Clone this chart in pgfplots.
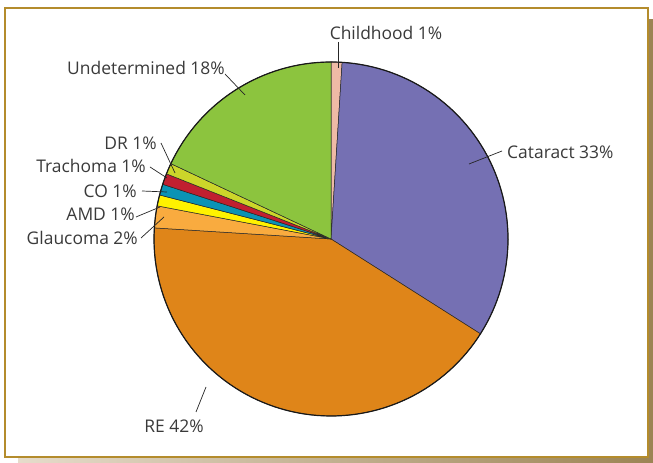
\documentclass[border=0pt]{standalone}
\usepackage{pgfplots}
\pgfplotsset{compat=1.18}
\usepackage{fontspec}
\setmainfont{Open Sans}
\definecolor{cChild}{HTML}{EEBAA6}
\definecolor{cCat}{HTML}{7570B3}
\definecolor{cRE}{HTML}{DF8519}
\definecolor{cGla}{HTML}{F9AB3F}
\definecolor{cAMD}{HTML}{FFF200}
\definecolor{cCO}{HTML}{0B93B5}
\definecolor{cTra}{HTML}{C11F30}
\definecolor{cDR}{HTML}{CCD62A}
\definecolor{cUnd}{HTML}{8CC43E}
\definecolor{frame}{HTML}{B48C2C}
\definecolor{shadL}{HTML}{E6DCCB}
\definecolor{shadR}{HTML}{9C8454}
\definecolor{txt}{HTML}{3A3A3A}
\begin{document}
\begin{tikzpicture}[x=1bp,y=1bp]
% canvas
\path (0,0) rectangle (653,463);
% shadow and frame
\shade[left color=shadL,right color=shadR] (18,0) rectangle (653,443);
\fill[white] (5,6) rectangle (648,455);
\draw[frame,line width=2bp] (5,6) rectangle (648,455);
\begin{axis}[
  x=177bp, y=177bp,
  xmin=-1, xmax=1, ymin=-1, ymax=1,
  hide axis, clip=false,
  at={(331bp,224bp)}, anchor=origin,
  every axis plot/.append style={data cs=polar, samples=60, draw=black!85, line width=0.5bp},
]
% wedges: start and end angle (degrees), from 90 clockwise; shares 1,33,42,2,1,1,1,1,18 %
\addplot[fill=cChild, domain=90:86.4]    ({\x},{1}) -- (axis cs:0,0) -- cycle;
\addplot[fill=cCat,   domain=86.4:-32.4] ({\x},{1}) -- (axis cs:0,0) -- cycle;
\addplot[fill=cRE,    domain=-32.4:-183.6] ({\x},{1}) -- (axis cs:0,0) -- cycle;
\addplot[fill=cGla,   domain=-183.6:-190.8] ({\x},{1}) -- (axis cs:0,0) -- cycle;
\addplot[fill=cAMD,   domain=-190.8:-194.4] ({\x},{1}) -- (axis cs:0,0) -- cycle;
\addplot[fill=cCO,    domain=-194.4:-198] ({\x},{1}) -- (axis cs:0,0) -- cycle;
\addplot[fill=cTra,   domain=-198:-201.6] ({\x},{1}) -- (axis cs:0,0) -- cycle;
\addplot[fill=cDR,    domain=-201.6:-205.2] ({\x},{1}) -- (axis cs:0,0) -- cycle;
\addplot[fill=cUnd,   domain=-205.2:-270] ({\x},{1}) -- (axis cs:0,0) -- cycle;
\addplot[draw=black!90, line width=1.2bp, domain=0:360, samples=180] ({\x},{1});
\end{axis}
% leader lines
\begin{scope}[draw=black!85, line width=0.7bp]
\draw (338,421) -- (338,395);
\draw (225,389) -- (245,368);
\draw (502,312) -- (469,299);
\draw (161,320) -- (175,290);
\draw (150,296) -- (167,285);
\draw (142,272) -- (167,271);
\draw (136,246) -- (160,256);
\draw (141,225) -- (164,246);
\draw (206,76) -- (196,51);
\end{scope}
% labels
\begin{scope}[every node/.style={text=txt, font=\fontsize{17.5}{20}\selectfont, inner sep=0pt}]
\node at (386,430) {Childhood 1\%};
\node at (146,395) {Undetermined 18\%};
\node[anchor=west] at (507,311) {Cataract 33\%};
\node[anchor=east] at (157,320) {DR 1\%};
\node[anchor=east] at (146,297) {Trachoma 1\%};
\node[anchor=east] at (137,272) {CO 1\%};
\node[anchor=east] at (135,249) {AMD 1\%};
\node[anchor=east] at (138,225) {Glaucoma 2\%};
\node at (174,37) {RE 42\%};
\end{scope}
\end{tikzpicture}
\end{document}
